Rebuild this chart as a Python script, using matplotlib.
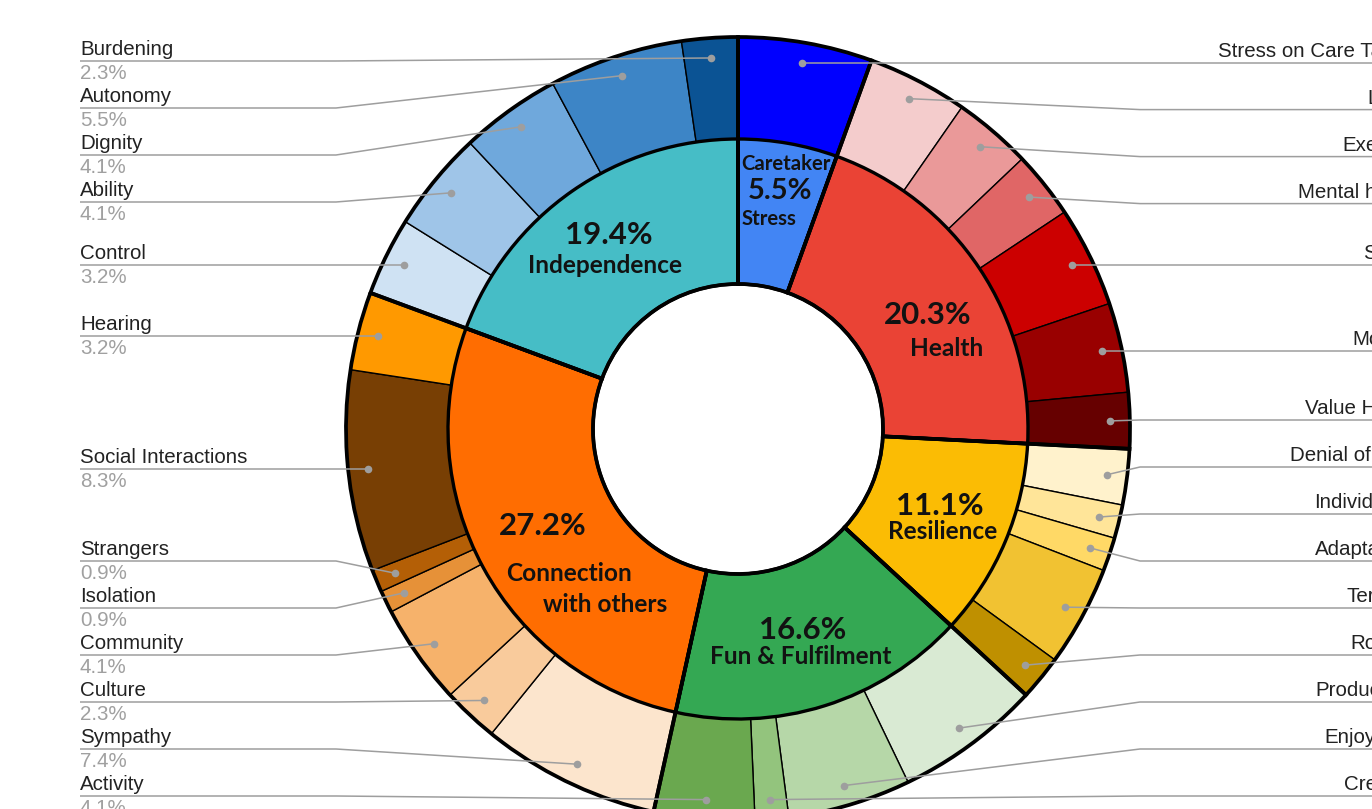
"""Nested donut: survey themes (inner ring) and their sub-themes (outer ring)."""

import matplotlib
matplotlib.use('Agg')
import matplotlib.pyplot as plt
import numpy as np

FIG_W, FIG_H = 1372, 809
CX, CY = 738, 429            # pie centre in pixels, y measured downward
R_OUT, R_MID, R_HOLE = 392, 290, 145
R_DOT = 372
R_INNER_LABEL = 218

# inner ring, clockwise from 12 o'clock (counts of responses, total 217)
themes = ['Caretaker Stress', 'Health', 'Resilience', 'Fun & Fulfilment',
          'Connection with others', 'Independence']
theme_counts = [12, 44, 24, 36, 59, 42]
theme_colors = ['#4285F4', '#EA4335', '#FBBC04', '#34A853', '#FF6D01', '#46BDC6']

# outer ring, same order
subthemes = [
    'Stress on Care Takers',
    'Living', 'Exercise', 'Mental health', 'Safety', 'Mobility', 'Value Health',
    'Denial of Care', 'Individuality', 'Adaptability', 'Territory', 'Routine',
    'Productivity', 'Enjoyment', 'Creation', 'Activity',
    'Sympathy', 'Culture', 'Community', 'Isolation', 'Strangers',
    'Social Interactions', 'Hearing',
    'Control', 'Ability', 'Dignity', 'Autonomy', 'Burdening',
]
subtheme_counts = [
    12,
    9, 7, 6, 9, 8, 5,
    5, 3, 3, 9, 4,
    13, 11, 3, 9,
    16, 5, 9, 2, 2, 18, 7,
    7, 9, 9, 12, 5,
]
subtheme_colors = [
    '#0000FF',
    '#F4CCCC', '#EA9999', '#E06666', '#CC0000', '#990000', '#660000',
    '#FFF2CC', '#FFE599', '#FFD966', '#F1C232', '#BF9000',
    '#D9EAD3', '#B6D7A8', '#93C47D', '#6AA84F',
    '#FCE5CD', '#F9CB9C', '#F6B26B', '#E69138', '#B45F06', '#783F04', '#FF9900',
    '#CFE2F3', '#9FC5E8', '#6FA8DC', '#3D85C6', '#0B5394',
]

# hand-placed text inside the inner ring: (text, style, dx, dy) from the anchor
INNER_TEXT = {
    'Caretaker Stress': [('Caretaker', 'small', 10, -50), ('{pct}', 'pct_small', 4, -23),
                         ('Stress', 'small', -7, 5)],
    'Health': [('{pct}', 'pct', 8, 7), ('Health', 'name', 27, 40)],
    'Resilience': [('{pct}', 'pct', 1, -8), ('Resilience', 'name', 4, 18)],
    'Fun & Fulfilment': [('{pct}', 'pct', -1, -7), ('Fun & Fulfilment', 'name', -3, 19)],
    'Connection with others': [('{pct}', 'pct', -4, -7), ('Connection', 'name', 22, 40),
                               ('with others', 'name', 58, 71)],
    'Independence': [('{pct}', 'pct', -5, -15), ('Independence', 'name', -8, 15)],
}
INNER_SIZES = {'pct': 22.5, 'name': 17.6, 'small': 14.6, 'pct_small': 21}

LABEL_FONT = 'Liberation Sans'
LABEL_SIZE = 14.8
LINE_GRAY = '#9E9E9E'


def fy(y_pix):
    return FIG_H - y_pix


def polar(theta_deg, r):
    t = np.radians(theta_deg)
    return CX + r * np.sin(t), CY - r * np.cos(t)


def mid_angles(counts):
    counts = np.asarray(counts, dtype=float)
    cum = np.cumsum(counts)
    return (cum - counts / 2) / counts.sum() * 360.0


def spread(ideal, gap=47.0, lo=61.0, hi=796.0):
    ideal = np.asarray(ideal, dtype=float)
    order = np.argsort(ideal)
    ys = ideal[order].copy()
    for i in range(len(ys)):
        ys[i] = max(ys[i], lo if i == 0 else ys[i - 1] + gap)
    ys[-1] = min(ys[-1], hi)
    for i in range(len(ys) - 2, -1, -1):
        ys[i] = min(ys[i], ys[i + 1] - gap)
    out = np.empty_like(ys)
    out[order] = ys
    return out


def draw_rings(ax):
    centre = (CX, fy(CY))
    common = dict(center=centre, startangle=90, counterclock=False)
    ax.pie(subtheme_counts, radius=R_OUT, colors=subtheme_colors,
           wedgeprops=dict(width=R_OUT - R_MID, edgecolor='black', linewidth=1.0), **common)
    ax.pie(theme_counts, radius=R_MID, colors=theme_colors,
           wedgeprops=dict(width=R_MID - R_HOLE, edgecolor='black', linewidth=2.4), **common)
    # heavy borders around each theme block, running through both rings
    ax.pie(theme_counts, radius=R_OUT, colors=['none'] * len(theme_counts),
           wedgeprops=dict(width=R_OUT - R_HOLE, edgecolor='black', linewidth=2.7), **common)


def draw_inner_text(ax):
    total = sum(theme_counts)
    for name, count, ang in zip(themes, theme_counts, mid_angles(theme_counts)):
        ax0, ay0 = polar(ang, R_INNER_LABEL)
        pct = f'{100 * count / total:.1f}%'
        for text, style, dx, dy in INNER_TEXT[name]:
            ax.text(ax0 + dx, fy(ay0 + dy), text.format(pct=pct), ha='center', va='center',
                    fontsize=INNER_SIZES[style], fontweight='bold', family='Lato', color='#121212')


def draw_outer_labels(ax):
    total = sum(subtheme_counts)
    angles = mid_angles(subtheme_counts)
    dots = np.array([polar(a, R_DOT) for a in angles])
    left = np.sin(np.radians(angles)) < 0

    for side_left in (True, False):
        idx = np.where(left == side_left)[0]
        ys = spread(dots[idx, 1])
        for i, y in zip(idx, ys):
            dx_, dy_ = dots[i]
            if side_left:
                knee_x, end_x, tx, ha = CX - 402, 80, 80, 'left'
            else:
                knee_x, end_x, tx, ha = CX + 402, 1421, 1421, 'right'
            ax.plot([end_x, knee_x, dx_], [fy(y), fy(y), fy(dy_)],
                    color=LINE_GRAY, lw=1.1, solid_capstyle='butt', zorder=5)
            ax.plot(dx_, fy(dy_), 'o', ms=5.5, color=LINE_GRAY, mec='none', zorder=6)
            ax.text(tx, fy(y - 2), subthemes[i], ha=ha, va='bottom',
                    fontsize=LABEL_SIZE, family=LABEL_FONT, color='#222222')
            ax.text(tx, fy(y + 3), f'{100 * subtheme_counts[i] / total:.1f}%', ha=ha, va='top',
                    fontsize=LABEL_SIZE, family=LABEL_FONT, color='#A0A0A0')


def main() -> None:
    fig = plt.figure(figsize=(FIG_W / 100, FIG_H / 100), dpi=100)
    ax = fig.add_axes([0, 0, 1, 1])
    draw_rings(ax)
    draw_outer_labels(ax)
    draw_inner_text(ax)
    ax.set_xlim(0, FIG_W)
    ax.set_ylim(0, FIG_H)
    ax.set_aspect('equal')
    ax.axis('off')
    fig.savefig('out.png', dpi=100, facecolor='white')
    plt.close(fig)


if __name__ == '__main__':
    main()
